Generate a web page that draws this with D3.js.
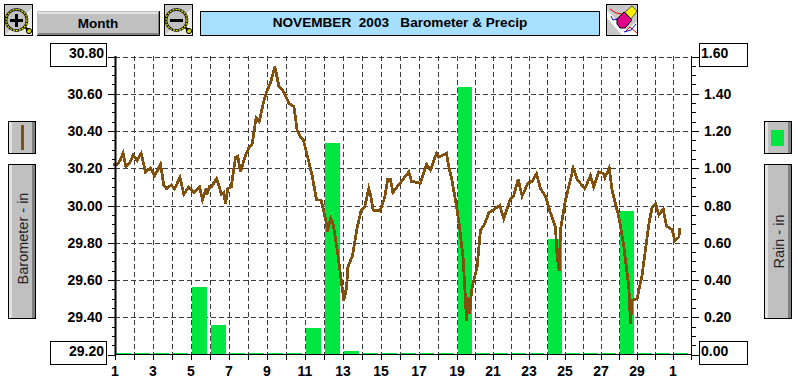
<!DOCTYPE html>
<html><head><meta charset="utf-8">
<script src="https://cdnjs.cloudflare.com/ajax/libs/d3/7.8.5/d3.min.js"></script>
<style>html,body{margin:0;padding:0;background:#fff;overflow:hidden}svg{display:block}text{font-family:"Liberation Sans",Arial,sans-serif}</style>
</head><body><svg id="c" width="798" height="382"></svg>
<script>
const titleText = "NOVEMBER  2003   Barometer & Precip";
const rangeButton = "Month";
const leftLabel = "Barometer - in";
const rightLabel = "Rain - in";
const xTickLabels = ["1","3","5","7","9","11","13","15","17","19","21","23","25","27","29","1"];
const baroTicks = ["30.80","30.60","30.40","30.20","30.00","29.80","29.60","29.40","29.20"];
const rainTicks = ["1.60","1.40","1.20","1.00","0.80","0.60","0.40","0.20","0.00"];
const rainDays = [1,2,3,4,5,6,7,8,9,10,11,12,13,14,15,16,17,18,19,20,21,22,23,24,25,26,27,28,29,30,31];
const rainValues = [0,0,0,0,0.36,0.16,0,0,0,0,0.14,1.135,0.02,0,0,0,0,0,1.435,0.01,0,0,0,0.62,0,0,0,0.77,0,0,0];
const baroDays = [0.88,1.09,1.23,1.40,1.54,1.75,1.93,2.14,2.35,2.58,2.84,3.07,3.37,3.54,3.68,3.93,4.11,4.39,4.60,4.86,5.12,5.42,5.58,5.77,5.82,5.93,6.05,6.32,6.58,6.70,6.79,6.91,7.09,7.32,7.44,7.58,7.84,8.02,8.19,8.40,8.56,8.84,8.95,9.16,9.39,9.60,9.86,10.12,10.39,10.56,10.74,10.88,11.09,11.35,11.58,11.82,12.11,12.16,12.32,12.46,12.67,12.84,13.02,13.16,13.23,13.47,13.72,13.93,14.11,14.33,14.42,14.56,14.91,15.16,15.33,15.47,15.60,15.82,16.44,16.58,17.05,17.37,17.58,17.89,18.02,18.42,18.54,18.72,18.98,19.13,19.31,19.43,19.50,19.54,19.60,19.69,19.74,19.81,20.09,20.28,20.46,20.74,21.35,21.57,21.91,22.13,22.37,22.59,22.91,23.15,23.39,23.61,23.89,24.13,24.44,24.54,24.65,24.72,25.00,25.28,25.43,25.65,26.07,26.39,26.57,26.85,27.13,27.19,27.43,27.59,27.96,28.24,28.52,28.61,28.70,28.98,29.26,29.63,29.81,30.00,30.19,30.43,30.61,30.93,31.07,31.30,31.35];
const baroValues = [30.22,30.22,30.24,30.28,30.21,30.23,30.27,30.24,30.28,30.18,30.20,30.16,30.22,30.11,30.09,30.11,30.09,30.15,30.06,30.10,30.07,30.10,30.03,30.09,30.06,30.10,30.10,30.145,30.06,30.07,30.01,30.09,30.10,30.26,30.265,30.18,30.27,30.31,30.33,30.47,30.45,30.575,30.61,30.66,30.745,30.64,30.61,30.55,30.53,30.405,30.365,30.355,30.27,30.16,30.03,30.03,29.90,29.86,29.93,29.90,29.76,29.63,29.49,29.56,29.67,29.73,29.88,29.975,29.99,30.09,30.06,29.975,29.97,30.04,30.14,30.14,30.07,30.10,30.18,30.13,30.12,30.22,30.19,30.28,30.26,30.28,30.21,30.13,29.975,29.87,29.72,29.52,29.38,29.51,29.47,29.42,29.50,29.56,29.67,29.87,29.89,29.96,30.00,29.93,30.03,30.055,30.14,30.05,30.12,30.13,30.17,30.09,30.05,29.97,29.885,29.72,29.65,29.87,30.03,30.14,30.20,30.14,30.09,30.16,30.10,30.18,30.17,30.15,30.20,30.08,29.94,29.78,29.56,29.365,29.49,29.50,29.63,29.90,29.99,30.01,29.95,29.98,29.89,29.87,29.81,29.83,29.88];

const svg = d3.select("#c");
const BROWN="#80500f", GREEN="#00e640", GREY="#c0c0c0", GRID="#3c3c3c";
// the source chart compresses days after the 19th
const x = d3.scaleLinear().domain([1,19,32]).range([115.5,457.5,691.5]);
const yB = d3.scaleLinear().domain([29.2,30.8]).range([354.5,56.5]);
const yR = d3.scaleLinear().domain([0,1.6]).range([354.5,56.5]);

function bevel(x0,y0,w,h,fill){
  const g=svg.append("g");
  g.append("rect").attr("x",x0+.5).attr("y",y0+.5).attr("width",w-1).attr("height",h-1).attr("fill",fill||GREY).attr("stroke","#000");
  g.append("rect").attr("x",x0+1).attr("y",y0+1).attr("width",3).attr("height",h-2).attr("fill","#e2e2e2");
  g.append("rect").attr("x",x0+w-4).attr("y",y0+1).attr("width",3).attr("height",h-2).attr("fill","#808080");
  return g;
}
// magnifier buttons
function magnifier(x0,minus){
  const g=svg.append("g");
  g.append("rect").attr("x",x0+.5).attr("y",4.5).attr("width",28).attr("height",31).attr("fill","#c8c8c8").attr("stroke","#000");
  g.append("path").attr("d",`M${x0+1} 35 L${x0+28} 35 L${x0+28} 8 Z`).attr("fill","#e8e8e8");
  g.append("circle").attr("cx",x0+25).attr("cy",31).attr("r",2.6).attr("fill","#d8d800").attr("stroke","#000").attr("stroke-width",1);
  g.append("line").attr("x1",x0+20).attr("y1",26).attr("x2",x0+24).attr("y2",30).attr("stroke","#000").attr("stroke-width",2);
  g.append("circle").attr("cx",x0+12.5).attr("cy",20).attr("r",10.5).attr("fill","#c0c0c0").attr("stroke","#000").attr("stroke-width",2.5);
  g.append("circle").attr("cx",x0+12.5).attr("cy",20).attr("r",10.5).attr("fill","none").attr("stroke","#eeee00").attr("stroke-width",1.2).attr("stroke-dasharray","2 1");
  g.append("line").attr("x1",x0+6).attr("y1",20.5).attr("x2",x0+19).attr("y2",20.5).attr("stroke","#000").attr("stroke-width",3);
  if(!minus) g.append("line").attr("x1",x0+12.5).attr("y1",14).attr("x2",x0+12.5).attr("y2",27).attr("stroke","#000").attr("stroke-width",3);
}
magnifier(4,false); magnifier(164,true);
// Month
svg.append("rect").attr("x",37.5).attr("y",11.5).attr("width",122).attr("height",24).attr("fill","#808080").attr("stroke","none");
svg.append("rect").attr("x",38).attr("y",12).attr("width",120).attr("height",21).attr("fill",GREY);
svg.append("rect").attr("x",38).attr("y",12).attr("width",120).attr("height",2).attr("fill","#e2e2e2");
svg.append("path").attr("d","M159.5 11V35.5H37").attr("fill","none").attr("stroke","#000");
svg.append("text").attr("x",98).attr("y",28).attr("text-anchor","middle").attr("font-weight","bold").attr("font-size",13.5).text(rangeButton);
// title
svg.append("rect").attr("x",200.5).attr("y",11.5).attr("width",399).attr("height",24).attr("fill","#a6dfff").attr("stroke","#000");
svg.append("text").attr("x",400).attr("y",26.5).attr("text-anchor","middle").attr("font-weight","bold").attr("font-size",13.6).style("white-space","pre").text(titleText);
// eraser icon
const er=svg.append("g");
er.append("rect").attr("x",606.5).attr("y",4.5).attr("width",31).attr("height",31).attr("fill","#c8c8c8").attr("stroke","#000");
er.append("path").attr("d","M607 18 L622 35 L637 35 L637 22 L626 30 L607 10Z").attr("fill","#fff");
er.append("path").attr("d","M610 9 L616 13 L622 14").attr("fill","none").attr("stroke","#e00000").attr("stroke-width",1);
er.append("path").attr("d","M611 16 L613 20 L617 19").attr("fill","none").attr("stroke","#0000d8").attr("stroke-width",1);
er.append("path").attr("d","M626 31 L630 27 L637 33").attr("fill","none").attr("stroke","#e00000").attr("stroke-width",1);
er.append("path").attr("d","M624 32 L631 30 L636 24").attr("fill","none").attr("stroke","#0000d8").attr("stroke-width",1);
er.append("path").attr("d","M632 6 L637 11 L631 19 L625 12Z").attr("fill","#f8f000").attr("stroke","#000").attr("stroke-width",.6);
er.append("path").attr("d","M624 12 L632 20 L625 28 L620 28 L617 24 L617 19Z").attr("fill","#e0008a").attr("stroke","#000").attr("stroke-width",1);

// grid
const grid=svg.append("g").attr("stroke",GRID).attr("stroke-width",1).attr("stroke-dasharray","5 3").attr("fill","none");
grid.selectAll("line.h").data(d3.range(0,8).map(i=>30.8-i*0.2)).join("line").attr("x1",115).attr("x2",691).attr("y1",d=>Math.round(yB(d))+.5).attr("y2",d=>Math.round(yB(d))+.5);
grid.selectAll("line.v").data(d3.range(2,32)).join("line").attr("y1",56).attr("y2",354).attr("x1",d=>Math.floor(x(d))+.5).attr("x2",d=>Math.floor(x(d))+.5);

// bars
svg.append("g").attr("fill",GREEN).attr("shape-rendering","crispEdges").selectAll("rect").data(rainDays).join("rect")
 .attr("x",d=>Math.round(x(d)))
 .attr("width",d=>Math.round(x(d+1)-x(d)-3.8))
 .attr("y",(d,i)=>Math.round(Math.min(yR(rainValues[i]),353)))
 .attr("height",(d,i)=>Math.max(Math.round(yR(0)-yR(rainValues[i])),2));

// baro line
svg.append("path").datum(baroDays.map((d,i)=>[d,baroValues[i]])).attr("fill","none").attr("stroke",BROWN).attr("stroke-width",2.8)
 .attr("shape-rendering","crispEdges").attr("stroke-linejoin","miter").attr("d",d3.line().x(d=>x(d[0])).y(d=>yB(d[1])));

// axes
const minor=d3.range(0,33).map(i=>i*0.05);
const ax=svg.append("g").attr("stroke","#000").attr("fill","none");
ax.append("line").attr("x1",115.5).attr("x2",115.5).attr("y1",56).attr("y2",355).attr("stroke-width",2);
ax.append("line").attr("x1",691.5).attr("x2",691.5).attr("y1",56).attr("y2",355);
ax.append("line").attr("x1",115).attr("x2",692).attr("y1",354.5).attr("y2",354.5);
ax.selectAll("line.l").data(minor).join("line").attr("y1",d=>Math.round(yR(d))+.5).attr("y2",d=>Math.round(yR(d))+.5).attr("x1",(d,i)=>i%4==0?108:112).attr("x2",115);
ax.selectAll("line.r").data(minor,(d,i)=>"r"+i).enter().append("line").attr("y1",d=>Math.round(yR(d))+.5).attr("y2",d=>Math.round(yR(d))+.5).attr("x1",(d,i)=>i%4==0?699:696).attr("x2",692);
ax.selectAll("line.b").data(d3.range(1,33),d=>"b"+d).enter().append("line").attr("x1",d=>Math.floor(x(d))+.5).attr("x2",d=>Math.floor(x(d))+.5).attr("y1",354).attr("y2",360);

// tick labels
const lab=svg.append("g").attr("font-weight","bold").attr("font-size",14).attr("fill","#000");
lab.selectAll("text.x").data(xTickLabels).join("text").attr("text-anchor","middle")
  .attr("x",(d,i)=>x(1+i*2)-.5).attr("y",376).text(d=>d);
// boxes behind first/last labels
[[50,43],[50,341]].forEach(p=>svg.append("rect").attr("x",p[0]+.5).attr("y",p[1]+.5).attr("width",56).attr("height",23).attr("fill","#fff").attr("stroke","#000"));
[[699,43],[699,341]].forEach(p=>svg.append("rect").attr("x",p[0]+.5).attr("y",p[1]+.5).attr("width",48).attr("height",23).attr("fill","#fff").attr("stroke","#000"));
const lab2=svg.append("g").attr("font-weight","bold").attr("font-size",14).attr("fill","#000");
lab2.selectAll("text.b").data(baroTicks).join("text").attr("text-anchor","end").attr("x",(d,i)=>(i==0||i==8)?104:102.5)
  .attr("y",(d,i)=>i==0?58:i==8?356:yB(+d)+5).text(d=>d);
lab2.selectAll("text.r").data(rainTicks,(d)=>"r"+d).enter().append("text").attr("x",(d,i)=>(i==0||i==8)?701:704)
  .attr("y",(d,i)=>i==0?58:i==8?356:yR(+d)+5).text(d=>d);

// side buttons
bevel(8,121,28,33); 
svg.append("line").attr("x1",22.5).attr("x2",22.5).attr("y1",125).attr("y2",150).attr("stroke",BROWN).attr("stroke-width",3);
bevel(8,164,28,155);
svg.append("text").attr("transform","translate(27.5,238.5) rotate(-90)").attr("text-anchor","middle").attr("font-size",14.5).attr("fill","#222").text(leftLabel);
bevel(764,121,28,33);
svg.append("rect").attr("x",771).attr("y",130).attr("width",13).attr("height",16).attr("fill",GREEN);
bevel(764,164,28,155);
svg.append("text").attr("transform","translate(784,241.5) rotate(-90)").attr("text-anchor","middle").attr("font-size",14.5).attr("fill","#222").text(rightLabel);
</script></body></html>
